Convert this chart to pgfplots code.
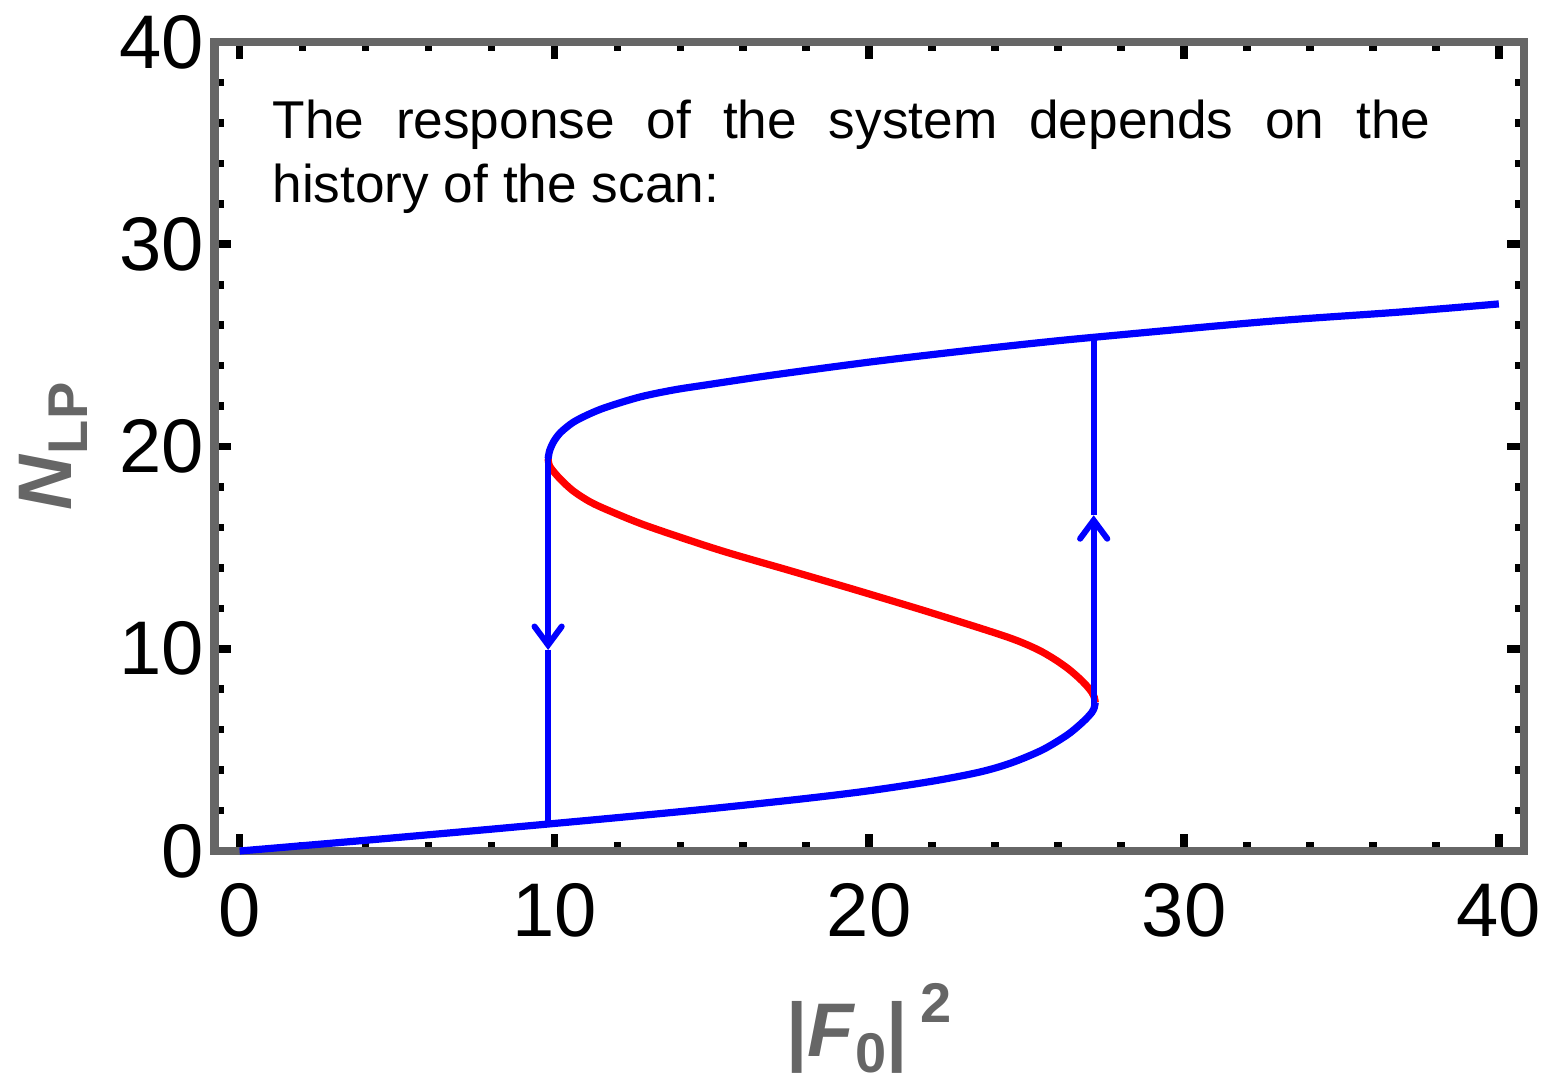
\documentclass[border=0pt]{standalone}
\usepackage{fontspec}
\setmainfont{Liberation Sans}
\usepackage{amsmath}
\usepackage{pgfplots}
\usepackage{pgfplotstable}
\pgfplotsset{compat=1.18}
\usetikzlibrary{arrows.meta}

\definecolor{framegray}{RGB}{102,102,102}

% ticks drawn over the frame and over the curves
\pgfplotsset{
  layers/ticksontop/.define layer set={axis background,axis grid,pre main,main,axis lines,axis ticks,axis tick labels,axis descriptions,axis foreground}{},
}

% lower stable branch (|F0|^2, N_LP)
\pgfplotstableread{
x      n
0.00   0.00
4.00   0.53
8.00   1.08
12.00  1.65
15.00  2.10
18.00  2.60
20.00  2.98
22.00  3.45
23.50  3.90
24.50  4.35
25.50  5.00
26.30  5.75
26.80  6.40
27.07  6.85
27.15  7.10
27.18  7.35
}\lowerbranch

% unstable middle branch
\pgfplotstableread{
x      n
27.18  7.35
27.15  7.60
27.07  7.85
26.93  8.13
26.70  8.50
26.33  9.00
25.87  9.50
25.30  10.00
24.35  10.60
22.03  11.75
19.76  12.82
17.49  13.86
15.22  14.89
12.95  16.07
11.81  16.78
11.15  17.25
10.60  17.80
10.18  18.40
9.86   19.00
9.80   19.40
}\middlebranch

% upper stable branch
\pgfplotstableread{
x      n
9.80   19.40
9.85   19.80
9.98   20.25
10.20  20.70
10.60  21.20
11.10  21.60
11.66  21.95
12.72  22.45
13.80  22.80
14.84  23.05
16.96  23.54
20.14  24.20
23.32  24.78
25.44  25.14
27.13  25.40
32.64  26.18
36.88  26.65
40.00  27.05
}\upperbranch

\begin{document}
\begin{tikzpicture}
\begin{axis}[
  set layers=ticksontop,
  scale only axis,
  width=327.4pt, height=202.25pt,
  xmin=-0.8, xmax=40.8, ymin=0, ymax=40,
  xtick={0,10,20,30,40}, ytick={0,10,20,30,40},
  minor x tick num=4, minor y tick num=4,
  tick align=inside,
  axis line style={framegray, line width=2.2pt},
  tick style={black, line width=1.9pt},
  major tick length=4.2pt, minor tick length=2.3pt,
  /pgf/number format/assume math mode=true,
  tick label style={font=\fontsize{19}{19}\selectfont, black},
  xticklabel style={anchor=north, inner sep=0pt, yshift=-8pt},
  yticklabel style={anchor=east, inner sep=0pt, xshift=-2.4pt},
  every axis x label/.style={at={(axis description cs:0.5,-0.2546)}, anchor=base},
  every axis y label/.style={at={(axis description cs:-0.1088,0.5)}, rotate=90, anchor=base},
  label style={font=\fontsize{19}{19}\selectfont\bfseries, text=framegray},
  xlabel={|\textit{F}\raisebox{-4pt}{\fontsize{14}{14}\selectfont 0}|\,\raisebox{8.5pt}{\fontsize{14}{14}\selectfont 2}},
  ylabel={\textit{N}\raisebox{-4pt}{\fontsize{14}{14}\selectfont LP}},
  clip=false,
]
\addplot[blue, line width=1.8pt, smooth] table[x=x, y=n] {\lowerbranch};
\addplot[red, line width=1.8pt, smooth] table[x=x, y=n] {\middlebranch};
\addplot[blue, line width=1.8pt, smooth] table[x=x, y=n] {\upperbranch};

% downward jump at the lower threshold
\addplot[blue, line width=1.5pt, -{Straight Barb[length=4.6pt, width=6.8pt, line cap=round]}]
  coordinates {(9.80,19.60) (9.80,9.94)};
\addplot[blue, line width=1.5pt] coordinates {(9.80,9.94) (9.80,1.38)};

% upward jump at the upper threshold
\addplot[blue, line width=1.5pt, -{Straight Barb[length=4.6pt, width=6.8pt, line cap=round]}]
  coordinates {(27.13,6.97) (27.13,16.6)};
\addplot[blue, line width=1.5pt] coordinates {(27.13,16.6) (27.13,25.40)};

\node[anchor=base west, inner sep=0pt] at (axis cs:1.02,35.25)
  {\parbox[t]{289.5pt}{\fontsize{13.3}{16}\selectfont
   The response of the system depends on the\linebreak history of the scan:}};
\end{axis}
\path (current axis.south west) ++(-53.6pt,-58.75pt)
      (current axis.north east) ++(5.75pt,10.5pt);
\end{tikzpicture}
\end{document}
